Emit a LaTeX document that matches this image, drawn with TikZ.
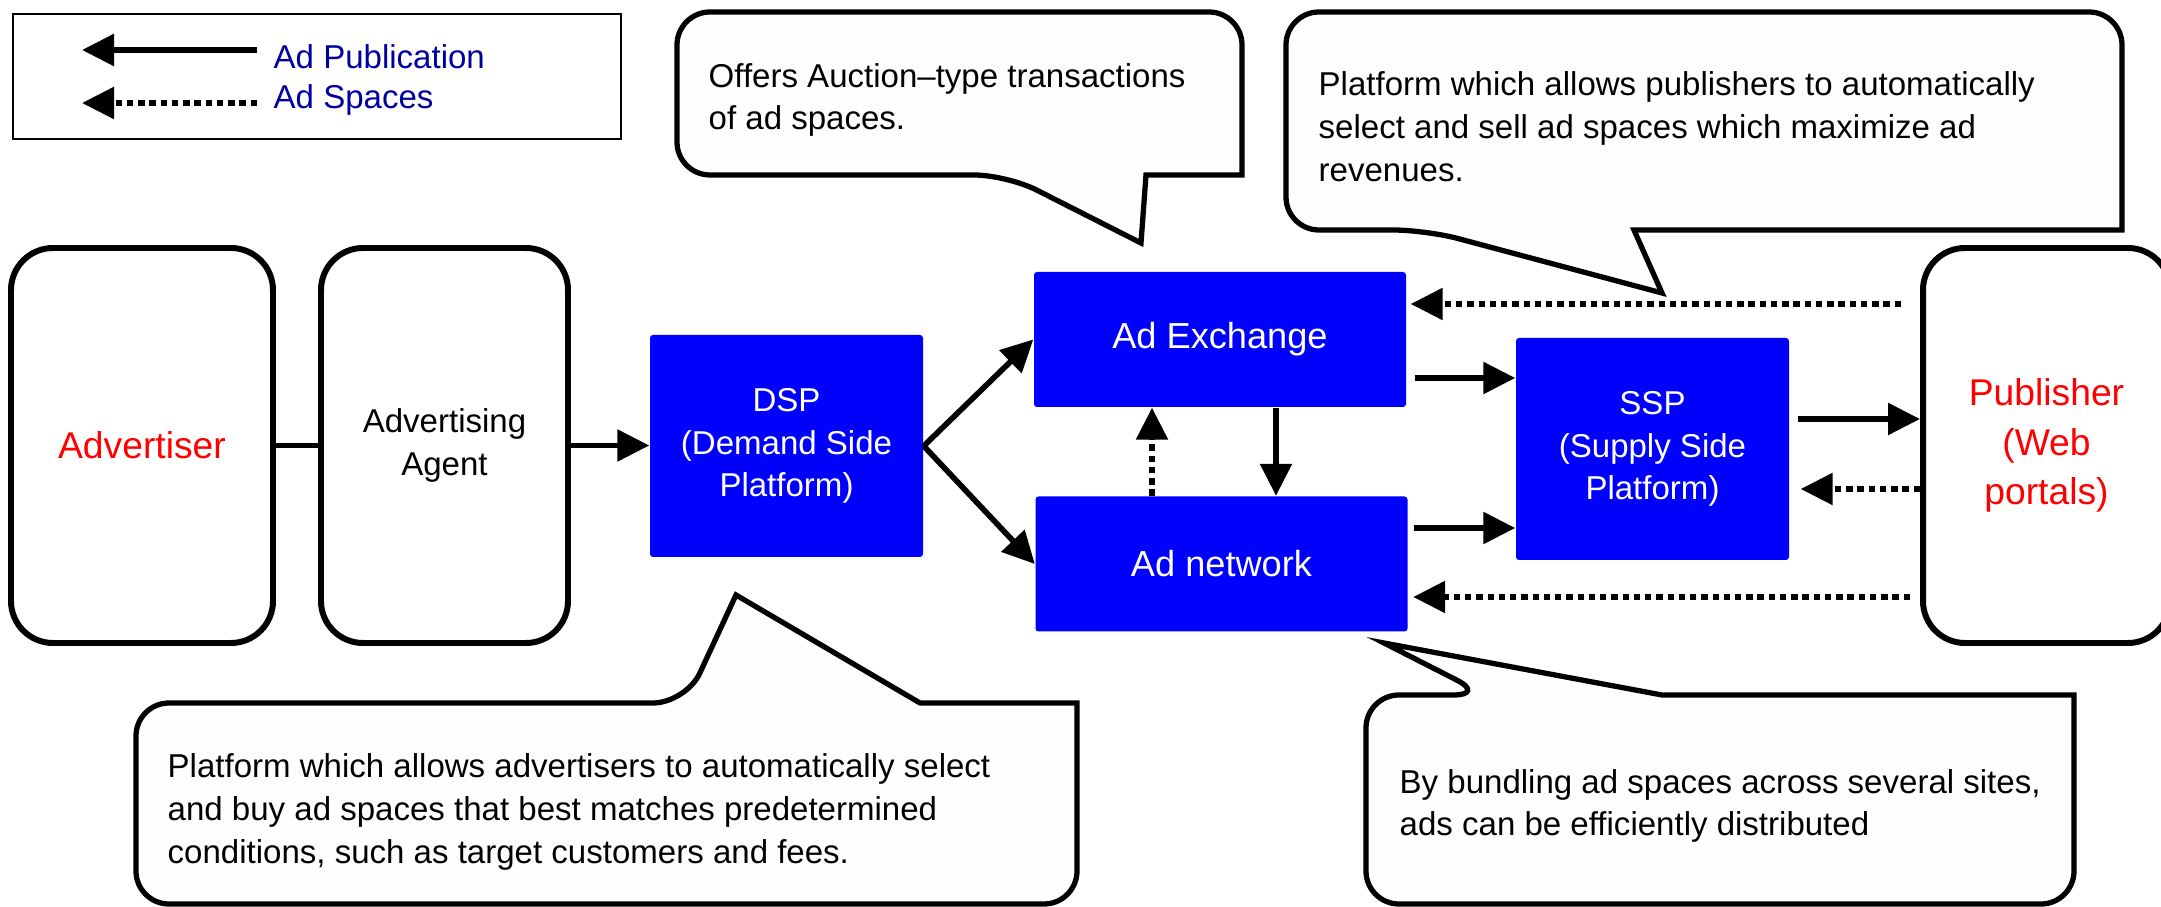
\documentclass[tikz,border=0pt]{standalone}
\usepackage{fontspec}
\setmainfont{Liberation Sans}
\usetikzlibrary{arrows.meta}
\definecolor{adblue}{RGB}{0,0,255}
\definecolor{keyblue}{RGB}{0,0,160}
\definecolor{notefill}{RGB}{254,254,254}
\begin{document}
\begin{tikzpicture}[
    party/.style={draw, line width=1.7pt, rounded corners=0.42cm, minimum width=2.47cm, minimum height=3.95cm, align=center, inner sep=0pt, font=\fontsize{9.4}{12.2}\selectfont},
    platform/.style={fill=adblue, text=white, rounded corners=0.03cm, align=center, inner sep=0pt, minimum width=2.73cm, minimum height=2.22cm, font=\fontsize{9.4}{12.2}\selectfont},
    market/.style={platform, minimum width=3.72cm, minimum height=1.35cm, font=\fontsize{10.3}{13}\selectfont},
    note/.style={draw, line width=1.5pt, fill=notefill, line join=miter},
    note text/.style={anchor=west, align=left, inner sep=0pt, font=\fontsize{9.4}{12.2}\selectfont},
    key text/.style={anchor=west, inner sep=0pt, text=keyblue, font=\fontsize{9.4}{11.95}\selectfont},
    pub arrow/.style={line width=1.6pt, -{Triangle[length=0.32cm,width=0.31cm]}},
    space arrow/.style={pub arrow, dash pattern=on 1.8pt off 1.4pt},
    ]
\useasboundingbox (0,0) rectangle (21.61,-9.07);
% legend
\node[draw, line width=0.6pt, anchor=north west, minimum width=6.08cm, minimum height=1.25cm] (legend) at (0.12,-0.13) {};
\node[key text] (pubkey) at (2.73,-0.57) {Ad Publication};
\node[key text] (spacekey) at (2.73,-1.00) {Ad Spaces};
\draw[pub arrow] (pubkey.west |- 0,-0.50) ++(-0.16,0) -- (0.82,-0.50);
\draw[space arrow] (spacekey.west |- 0,-1.03) ++(-0.16,0) -- (0.82,-1.03);
% callouts
\draw[note] (9,-0.12) [rounded corners=0.33cm] -- (6.77,-0.12) -- (6.77,-1.75) -- (10.07,-1.75) [sharp corners] -- (11.41,-2.43) -- (11.46,-1.75) -- (12.42,-1.75) [rounded corners=0.33cm] -- (12.42,-0.12) -- cycle;
\draw[note] (17,-0.12) [rounded corners=0.33cm] -- (12.86,-0.12) -- (12.86,-2.30) -- (14.26,-2.30) [sharp corners] -- (16.62,-2.93) -- (16.34,-2.30) -- (21.22,-2.30) [rounded corners=0.33cm] -- (21.22,-0.12) -- cycle;
\draw[note] (5,-9.04) [rounded corners=0.33cm] -- (1.36,-9.04) -- (1.36,-7.03) -- (6.86,-7.03) [sharp corners] -- (7.36,-5.95) -- (9.20,-7.03) -- (10.77,-7.03) [rounded corners=0.33cm] -- (10.77,-9.04) -- cycle;
\draw[note] (17,-9.04) [rounded corners=0.33cm] -- (13.66,-9.04) -- (13.66,-6.95) -- (14.86,-6.95) [sharp corners] -- (13.84,-6.43) -- (16.62,-6.95) -- (20.74,-6.95) [rounded corners=0.33cm] -- (20.74,-9.04) -- cycle;
\node[note text] (auction) at (7.08,-1.00) {Offers Auction–type transactions\\of ad spaces.};
\node[note text] (sspnote) at (13.18,-1.27) {Platform which allows publishers to automatically\\select and sell ad spaces which maximize ad\\revenues.};
\node[note text] (dspnote) at (1.67,-8.12) {Platform which allows advertisers to automatically select\\and buy ad spaces that best matches predetermined\\conditions, such as target customers and fees.};
\node[note text] (netnote) at (13.99,-8.06) {By bundling ad spaces across several sites,\\ads can be efficiently distributed};
% parties and platforms
\node[party, minimum width=2.62cm, text=red, font=\fontsize{10.6}{14}\selectfont] (adv) at (1.42,-4.455) {Advertiser};
\node[party] (agent) at (4.445,-4.455) {Advertising\\Agent};
\node[party, text=red, font=\fontsize{10.6}{14}\selectfont] (pub) at (20.465,-4.455) {Publisher\\(Web\\portals)};
\node[platform] (dsp) at (7.865,-4.46) {DSP\\(Demand Side\\Platform)};
\node[market] (ex) at (12.2,-3.395) {Ad Exchange};
\node[market] (net) at (12.215,-5.64) {Ad network};
\node[platform] (ssp) at (16.525,-4.49) {SSP\\(Supply Side\\Platform)};
% connectors
\draw[line width=1.6pt] (adv) -- (agent);
\draw[pub arrow] (agent.east) -- (agent.east -| dsp.west);
\draw[pub arrow] (dsp.east) -- (ex.west);
\draw[pub arrow] (dsp.east) -- (net.west);
\draw[pub arrow] (ex.south -| 12.76,0) -- (net.north -| 12.76,0);
\draw[space arrow] (net.north -| 11.52,0) -- (ex.south -| 11.52,0);
\draw[pub arrow, shorten <=0.08cm] (ex.east |- 0,-3.78) -- (ssp.west |- 0,-3.78);
\draw[pub arrow, shorten <=0.06cm] (net.east |- 0,-5.28) -- (ssp.west |- 0,-5.28);
\draw[pub arrow, shorten <=0.08cm] (ssp.east |- 0,-4.19) -- (pub.west |- 0,-4.19);
\draw[space arrow, shorten >=0.11cm] (pub.west |- 0,-4.89) -- (ssp.east |- 0,-4.89);
\draw[space arrow, shorten <=0.19cm, shorten >=0.04cm] (pub.west |- 0,-3.04) -- (ex.east |- 0,-3.04);
\draw[space arrow, shorten <=0.10cm, shorten >=0.05cm] (pub.west |- 0,-5.97) -- (net.east |- 0,-5.97);
\end{tikzpicture}
\end{document}
